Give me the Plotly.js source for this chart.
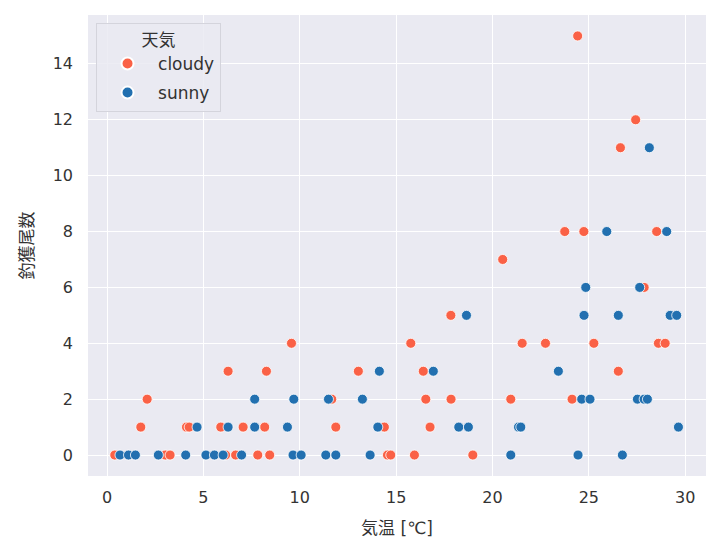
<!DOCTYPE html>
<html>
<head>
<meta charset="utf-8">
<script src="https://cdn.plot.ly/plotly-3.0.1.min.js"></script>
<style>
  html, body { margin: 0; padding: 0; background: #fff; }
  #chart { width: 720px; height: 554px; }
</style>
</head>
<body>
<div id="chart"></div>
<script>
// 気温 (x) と 釣獲尾数 (y)、天気ごと
var cloudy_temp = [0.40, 3.02, 3.27, 6.15, 6.67, 7.82, 8.44, 14.55, 14.72, 15.95, 18.98,
                   1.75, 4.12, 4.26, 5.90, 7.06, 8.18, 11.87, 14.39, 16.76,
                   2.08, 11.66, 16.54, 17.85, 20.95, 24.13,
                   6.28, 8.27, 13.04, 16.41, 26.53,
                   9.57, 15.76, 21.54, 22.75, 25.26, 28.61, 28.96,
                   17.84, 27.87, 20.53,
                   23.75, 24.74, 28.52,
                   26.64, 27.43, 24.42];
var cloudy_catch = [0, 0, 0, 0, 0, 0, 0, 0, 0, 0, 0,
                    1, 1, 1, 1, 1, 1, 1, 1, 1,
                    2, 2, 2, 2, 2, 2,
                    3, 3, 3, 3, 3,
                    4, 4, 4, 4, 4, 4, 4,
                    5, 6, 7,
                    8, 8, 8,
                    11, 12, 15];

var sunny_temp = [0.67, 1.11, 1.47, 2.66, 4.08, 5.13, 5.57, 6.02, 6.98, 9.65, 10.07, 11.35, 11.87, 13.65, 20.95, 24.44, 26.74,
                  4.67, 6.28, 7.66, 9.36, 14.05, 18.25, 18.75, 21.35, 21.47, 29.65,
                  7.66, 9.69, 11.49, 13.25, 24.63, 25.06, 27.52, 27.87, 28.04,
                  14.13, 16.93, 23.42,
                  18.65, 24.75, 26.53, 29.22, 29.56,
                  24.84, 27.64,
                  25.93, 29.04,
                  28.14];
var sunny_catch = [0, 0, 0, 0, 0, 0, 0, 0, 0, 0, 0, 0, 0, 0, 0, 0, 0,
                   1, 1, 1, 1, 1, 1, 1, 1, 1, 1,
                   2, 2, 2, 2, 2, 2, 2, 2, 2,
                   3, 3, 3,
                   5, 5, 5, 5, 5,
                   6, 6,
                   8, 8,
                   11];

var FONT = '"DejaVu Sans", "Noto Sans CJK JP", sans-serif';
var INK = '#333333';

var cloudy = {
    x: cloudy_temp,
    y: cloudy_catch,
    name: 'cloudy',
    legendgroup: 'cloudy',
    type: 'scatter',
    mode: 'markers',
    marker: {color: '#fa6146', size: 10, line: {color: '#ffffff', width: 0.8}}
};
var sunny = {
    x: sunny_temp,
    y: sunny_catch,
    name: 'sunny',
    legendgroup: 'sunny',
    type: 'scatter',
    mode: 'markers',
    marker: {color: '#2270b0', size: 10, line: {color: '#ffffff', width: 0.8}}
};

var layout = {
    width: 720,
    height: 554,
    margin: {l: 88, r: 14, t: 15, b: 78},
    paper_bgcolor: '#ffffff',
    plot_bgcolor: '#eaeaf2',
    font: {family: FONT, size: 16, color: INK},
    showlegend: true,
    legend: {
        x: 0.013,
        y: 0.983,
        xanchor: 'left',
        yanchor: 'top',
        bgcolor: 'rgba(234,234,242,0.85)',
        bordercolor: '#d4d4dc',
        borderwidth: 1,
        font: {family: FONT, size: 17, color: INK},
        title: {text: '天気', side: 'top center', font: {family: FONT, size: 17, color: INK}},
        traceorder: 'grouped',
        tracegroupgap: 4,
        itemwidth: 51,
        itemsizing: 'constant'
    },
    xaxis: {
        range: [-0.99, 31.08],
        dtick: 5,
        tick0: 0,
        showgrid: true,
        gridcolor: '#ffffff',
        gridwidth: 1.3,
        zeroline: false,
        showline: false,
        ticks: '',
        ticklabelstandoff: 10,
        title: {text: '気温 [℃]', font: {family: FONT, size: 17, color: INK}, standoff: 16}
    },
    yaxis: {
        range: [-0.75, 15.75],
        dtick: 2,
        tick0: 0,
        showgrid: true,
        gridcolor: '#ffffff',
        gridwidth: 1.3,
        zeroline: false,
        showline: false,
        ticks: '',
        ticklabelstandoff: 14,
        title: {text: '釣獲尾数', font: {family: FONT, size: 17, color: INK}, standoff: 14}
    }
};

Plotly.newPlot('chart', [cloudy, sunny], layout, {displayModeBar: false});
</script>
</body>
</html>
